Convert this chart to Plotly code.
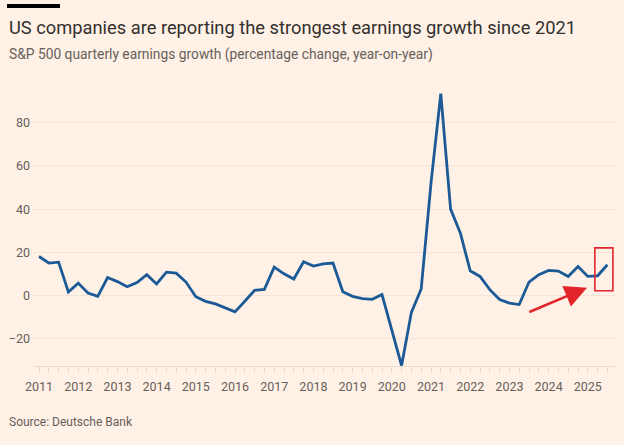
import plotly.graph_objects as go

# S&P 500 quarterly earnings growth, % y/y, 2011 Q1 .. 2025 Q3
start_year = 2011
growth = [18.1, 15.1, 15.5, 1.7, 5.8, 1.2, -0.3, 8.4, 6.5, 4.1,
          6.1, 9.7, 5.4, 10.9, 10.4, 6.3, -0.5, -2.6, -3.8, -5.7,
          -7.5, -2.6, 2.5, 2.9, 13.2, 10.1, 7.7, 15.7, 13.7, 14.7,
          15.1, 1.8, -0.3, -1.4, -1.7, 0.5, -16.0, -32.3, -7.7, 3.1,
          52.0, 93.4, 40.0, 28.9, 11.5, 8.9, 2.8, -1.8, -3.4, -4.1,
          6.3, 9.7, 11.7, 11.4, 8.9, 13.5, 8.9, 9.2, 14.3]
quarters = [start_year + i / 4 for i in range(len(growth))]
years = list(range(2011, 2026))
yticks = [-20, 0, 20, 40, 60, 80]

title = "US companies are reporting the strongest earnings growth since 2021"
subtitle = "S&P 500 quarterly earnings growth (percentage change, year-on-year)"
source = "Source: Deutsche Bank"

bg = "#fff1e5"
grey = "#66605c"
red = "#e3252b"

# plot area in pixels: left 33, right 615, top 88, bottom 366
pl, pr, pt, pb = 33, 615, 88, 366
def px(x):
    return (x - pl) / (pr - pl)
def py(y):
    return (pb - y) / (pb - pt)

fig = go.Figure()
fig.add_trace(go.Scatter(x=quarters, y=growth, mode="lines",
                         line=dict(color="#1b5a96", width=2.8),
                         hoverinfo="x+y"))

# red box round the latest reading, red arrow pointing at it
last_x = quarters[-1]
fig.add_shape(type="rect", xref="x", yref="y",
              x0=last_x - 0.32, x1=last_x + 0.14, y0=2.3, y1=22.1,
              line=dict(color=red, width=1.6), fillcolor="rgba(0,0,0,0)")
fig.add_annotation(x=2024.98, y=3.7, ax=2023.47, ay=-7.8,
                   xref="x", yref="y", axref="x", ayref="y",
                   text="", showarrow=True, arrowhead=2, arrowsize=1.7,
                   arrowwidth=2.6, arrowcolor=red)

# FT style black bar above the title
fig.add_shape(type="line", xref="paper", yref="paper",
              x0=px(7), x1=px(60), y0=py(6), y1=py(6),
              line=dict(color="#000000", width=4))

fig.add_annotation(text=title, xref="paper", yref="paper", x=px(7), y=py(27),
                   xanchor="left", yanchor="middle", showarrow=False,
                   font=dict(family="Roboto", size=18.3, color="#33302e"))
fig.add_annotation(text=subtitle, xref="paper", yref="paper", x=px(7), y=py(54),
                   xanchor="left", yanchor="middle", showarrow=False,
                   font=dict(family="Roboto", size=13.8, color=grey))
fig.add_annotation(text=source, xref="paper", yref="paper", x=px(7), y=py(422),
                   xanchor="left", yanchor="middle", showarrow=False,
                   font=dict(family="Roboto", size=12, color=grey))

fig.update_layout(
    width=624, height=445,
    paper_bgcolor=bg, plot_bgcolor=bg,
    margin=dict(l=pl, r=624 - pr, t=pt, b=445 - pb),
    showlegend=False,
    font=dict(family="Roboto", size=12, color=grey),
)
fig.update_xaxes(
    range=[2011 - 6 / 39.2, 2011 + (pr - 39) / 39.2],
    tickvals=years, ticktext=[str(y) for y in years],
    ticks="outside", ticklen=6, tickcolor="#eadbcf", tickwidth=1,
    minor=dict(dtick=0.25, tick0=2011, ticks="outside", ticklen=6,
               tickcolor="#eadbcf", showgrid=False),
    showline=True, linecolor="#eadbcf", linewidth=1,
    showgrid=False, zeroline=False, ticklabelstandoff=3,
    tickfont=dict(size=12.5, color=grey),
)
fig.update_yaxes(
    range=[-32.5, 96], tickvals=yticks,
    showgrid=True, gridcolor="#f3e4d8", gridwidth=1,
    zeroline=False, ticks="", ticklabelstandoff=2,
    tickfont=dict(size=12.5, color=grey),
)

# the page body has an 8px default margin; drop it so the figure fills the window
fig.write_html("out.html", config={"displayModeBar": False},
               post_script="document.body.style.margin='0';")
